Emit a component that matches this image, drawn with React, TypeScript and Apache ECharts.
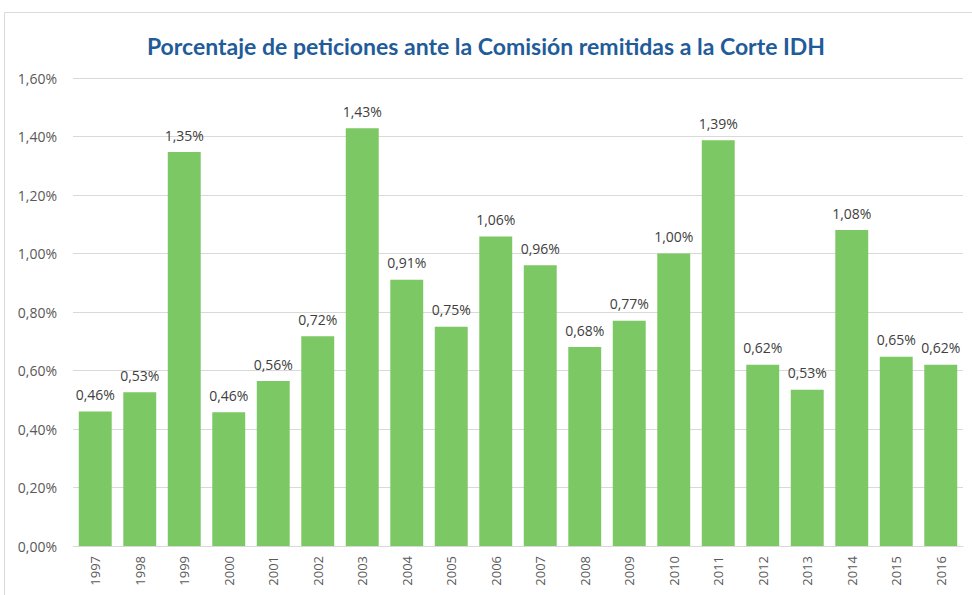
import React, { useEffect, useRef } from "react";
import * as echarts from "echarts";

const years = ["1997","1998","1999","2000","2001","2002","2003","2004","2005","2006","2007","2008","2009","2010","2011","2012","2013","2014","2015","2016"];
const values = [0.46,0.526,1.347,0.457,0.564,0.717,1.428,0.91,0.75,1.058,0.96,0.68,0.77,1.0,1.387,0.62,0.534,1.08,0.647,0.62];
const title = "Porcentaje de peticiones ante la Comisión remitidas a la Corte IDH";

const fmt = (v: number) => v.toFixed(2).replace(".", ",") + "%";

export default function App() {
  const ref = useRef<HTMLDivElement>(null);
  useEffect(() => {
    if (!ref.current) return;
    const chart = echarts.init(ref.current, undefined, { renderer: "svg" });
    chart.setOption({
      animation: false,
      backgroundColor: "#ffffff",
      title: {
        text: title,
        left: "center",
        top: 29,
        textStyle: { fontFamily: "Lato", fontWeight: "bold", fontSize: 23, color: "#1f5c99" },
      },
      graphic: [
        {
          type: "rect",
          shape: { x: 4.5, y: 12.5, width: 980, height: 600 },
          style: { fill: "none", stroke: "#d9d9d9", lineWidth: 1 },
          silent: true,
        },
      ],
      grid: { left: 73, right: 9, top: 78, bottom: 49, containLabel: false },
      xAxis: {
        type: "category",
        data: years,
        axisLine: { lineStyle: { color: "#d9d9d9" } },
        axisTick: { show: false },
        axisLabel: { rotate: 90, color: "#595959", fontSize: 13, fontFamily: "Open Sans", margin: 10 },
      },
      yAxis: {
        type: "value",
        min: 0,
        max: 1.6,
        interval: 0.2,
        axisLine: { show: false },
        axisTick: { show: false },
        splitLine: { lineStyle: { color: "#d9d9d9" } },
        axisLabel: { formatter: (v: number) => fmt(v), color: "#595959", fontSize: 14, fontFamily: "Open Sans", margin: 16 },
      },
      series: [
        {
          type: "bar",
          data: values,
          barCategoryGap: "26%",
          itemStyle: { color: "#7cc864" },
          label: {
            show: true,
            position: "top",
            distance: 10,
            formatter: (p: any) => fmt(p.value),
            color: "#404040",
            fontSize: 14,
            fontFamily: "Open Sans",
          },
        },
      ],
    });
    return () => chart.dispose();
  }, []);
  return <div ref={ref} style={{ position: "fixed", left: 0, top: 0, width: 972, height: 595 }} />;
}
